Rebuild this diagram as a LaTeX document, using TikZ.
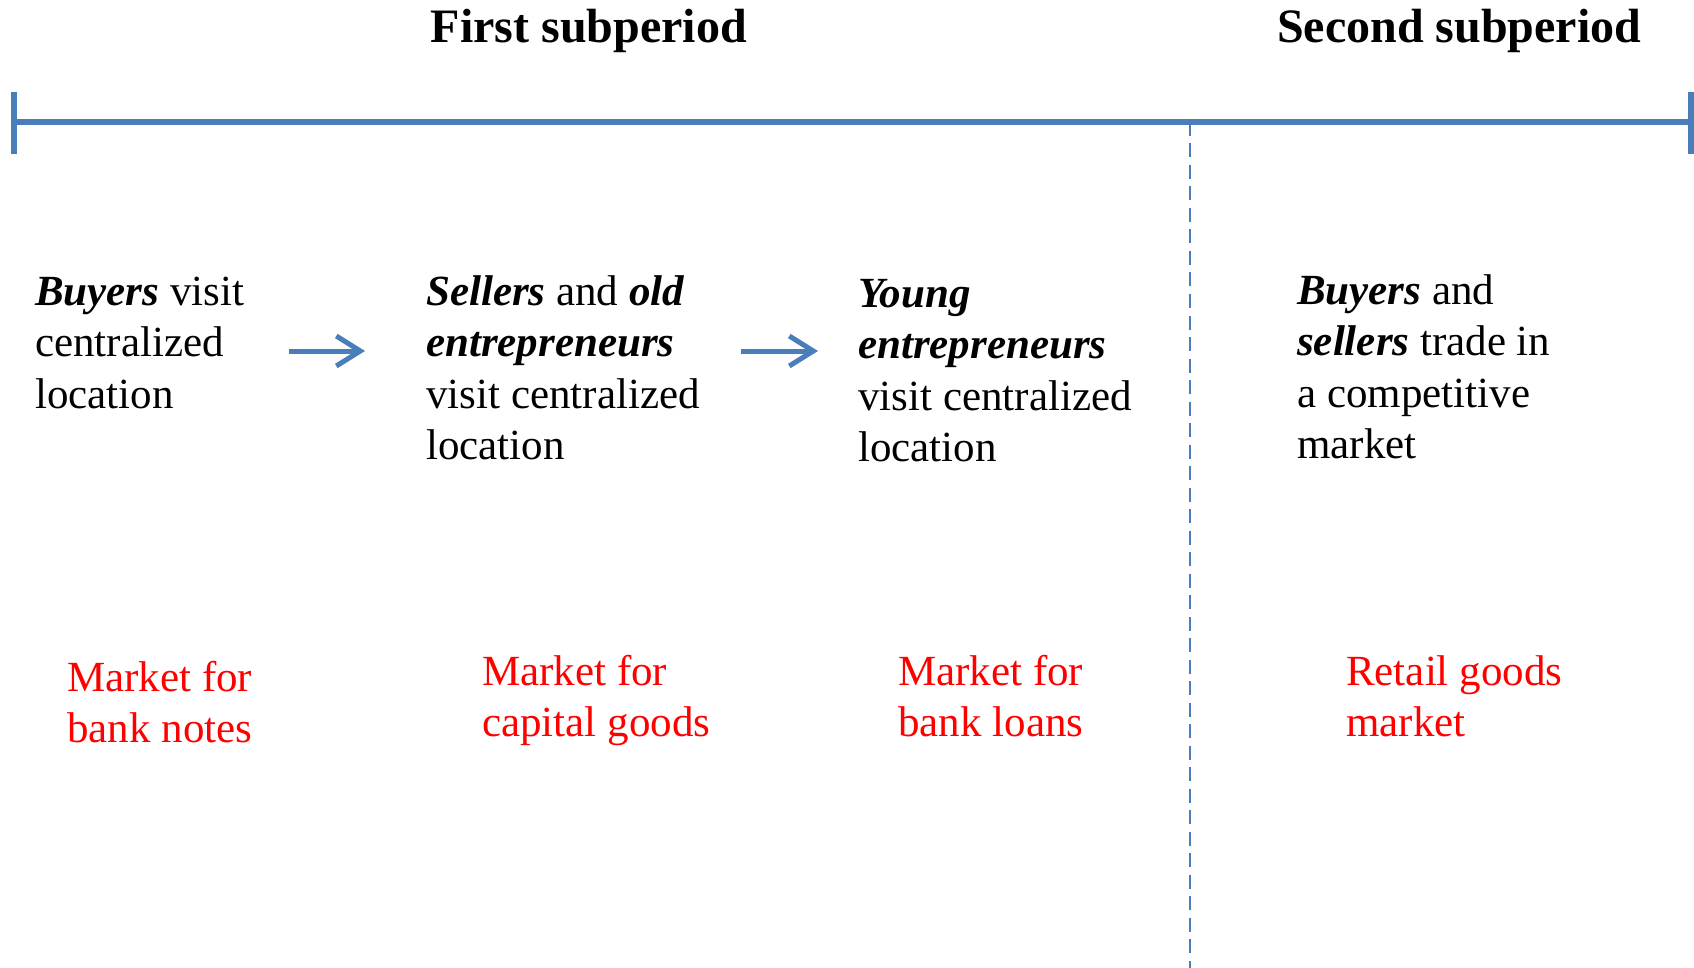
\documentclass[tikz,border=0pt]{standalone}
\usepackage{fontspec}
\setmainfont{Liberation Serif}
\usepackage{xcolor}
\usetikzlibrary{arrows.meta}

\definecolor{lineblue}{HTML}{4A7EBB}
\definecolor{marketred}{HTML}{FF0000}

\begin{document}
\begin{tikzpicture}
        [x=1pt, y=-1pt,
            every node/.style={inner sep=0pt, align=left, anchor=base west, font=\fontsize{43}{51.5}\selectfont},
            title/.style={font=\fontsize{48}{58}\selectfont\bfseries},
            market/.style={text=marketred},
            timeline/.style={draw=lineblue, line width=5.5pt},
            flow/.style={->, draw=lineblue, line width=5pt},
            >={Straight Barb[length=24pt, width=30pt]}
        ]
        \useasboundingbox (0,0) rectangle (1694,968);
        % headings
        \node (first) [title, anchor=base] at (589,43) {First subperiod};
        \node (second) [title] at (1277,43) {Second subperiod};
        % time line with end ticks
        \coordinate (tstart) at (14,122);
        \coordinate (tend) at (1691,122);
        \coordinate (split) at (1190,122);
        \draw[timeline] (tstart) -- (tend);
        \draw[timeline] (tstart) ++(0,-30) -- ++(0,62);
        \draw[timeline] (tend) ++(0,-30) -- ++(0,62);
        \draw[draw=lineblue, line width=2pt, dash pattern=on 14pt off 7.5pt] (split) -- (split |- 0,968);
        % who visits (nodes sit on the baseline of their last line)
        \node (buyers) at (35,408) {\textbf{\textit{Buyers}} visit\\centralized\\location};
        \node (sellers) at (426,459.5) {\textbf{\textit{Sellers}} and \textbf{\textit{old}}\\\textbf{\textit{entrepreneurs}}\\visit centralized\\location};
        \node (young) at (858,461.5) {\textbf{\textit{Young}}\\\textbf{\textit{entrepreneurs}}\\visit centralized\\location};
        \node (trade) at (1297,458.5) {\textbf{\textit{Buyers}} and\\\textbf{\textit{sellers}} trade in\\a competitive\\market};
        % markets
        \node (notes) [market] at (67,742.5) {Market for\\bank notes};
        \node (capital) [market] at (482,736.5) {Market for\\capital goods};
        \node (loans) [market] at (898,736.5) {Market for\\bank loans};
        \node (retail) [market] at (1346,736.5) {Retail goods\\market};
        \coordinate (arrowy) at (0,351);
        \draw[flow, shorten <=45pt, shorten >=61pt] (buyers.east |- arrowy) -- (sellers.west |- arrowy);
        \draw[flow, shorten <=41pt, shorten >=40pt] (sellers.east |- arrowy) -- (young.west |- arrowy);
    \end{tikzpicture}
\end{document}
